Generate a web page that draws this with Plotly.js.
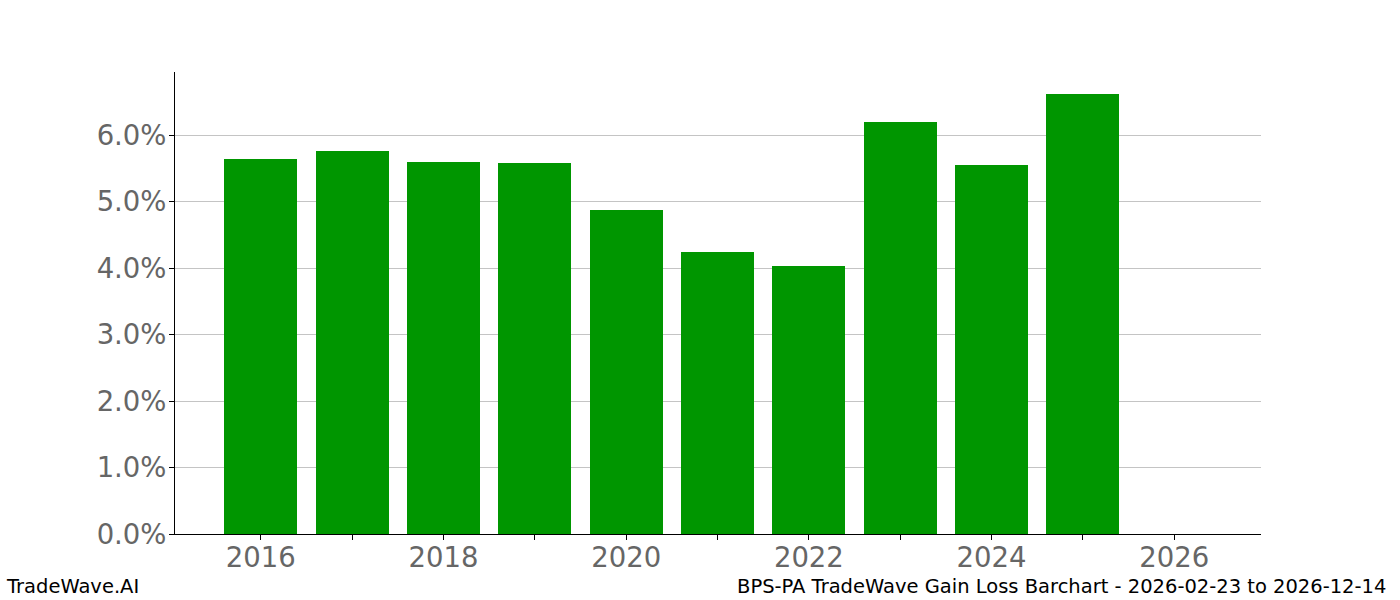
<!DOCTYPE html>
<html>
<head>
<meta charset="utf-8">
<script src="https://cdn.plot.ly/plotly-3.0.1.min.js"></script>
<style>
  html, body { margin: 0; padding: 0; background: #fff; }
  #chart { width: 1400px; height: 600px; }
</style>
</head>
<body>
<div id="chart"></div>
<script>
// yearly gain (percent)
var years = [2016, 2017, 2018, 2019, 2020, 2021, 2022, 2023, 2024, 2025];
var gains = [5.64, 5.76, 5.60, 5.58, 4.88, 4.245, 4.035, 6.20, 5.55, 6.62];

var tickYears = [2016, 2017, 2018, 2019, 2020, 2021, 2022, 2023, 2024, 2025, 2026];
var tickLabels = ['2016', '', '2018', '', '2020', '', '2022', '', '2024', '', '2026'];
var yTicks = [0, 1, 2, 3, 4, 5, 6];
var yLabels = ['0.0%', '1.0%', '2.0%', '3.0%', '4.0%', '5.0%', '6.0%'];

var footLeft = 'TradeWave.AI';
var footRight = 'BPS-PA TradeWave Gain Loss Barchart - 2026-02-23 to 2026-12-14';

var tickFont = { family: 'DejaVu Sans, sans-serif', size: 27.5, color: '#666666' };
var footFont = { family: 'DejaVu Sans, sans-serif', size: 19.5, color: '#000000' };

var bars = {
  type: 'bar',
  x: years,
  y: gains,
  width: 0.8,
  marker: { color: '#009600', line: { width: 0 } },
  hoverinfo: 'x+y'
};

var layout = {
  width: 1400,
  height: 600,
  margin: { l: 175, r: 139, t: 72, b: 66 },
  paper_bgcolor: '#ffffff',
  plot_bgcolor: '#ffffff',
  showlegend: false,
  bargap: 0,
  xaxis: {
    range: [2015.06, 2026.95],
    tickmode: 'array',
    tickvals: tickYears,
    ticktext: tickLabels,
    ticks: 'outside',
    ticklen: 5,
    tickwidth: 1,
    tickcolor: '#000000',
    tickfont: tickFont,
    ticklabelstandoff: -6,
    showgrid: false,
    zeroline: false,
    showline: true,
    linecolor: '#000000',
    linewidth: 1
  },
  yaxis: {
    range: [0, 6.95],
    tickmode: 'array',
    tickvals: yTicks,
    ticktext: yLabels,
    ticks: 'outside',
    ticklen: 5,
    tickwidth: 1,
    tickcolor: '#000000',
    tickfont: tickFont,
    ticklabelstandoff: -3,
    showgrid: true,
    gridcolor: '#c4c4c4',
    gridwidth: 1,
    zeroline: false,
    showline: true,
    linecolor: '#000000',
    linewidth: 1
  },
  annotations: [
    {
      text: footLeft,
      xref: 'paper', yref: 'paper',
      x: -0.1576, y: -0.1147,
      xanchor: 'left', yanchor: 'middle',
      showarrow: false,
      font: footFont
    },
    {
      text: footRight,
      xref: 'paper', yref: 'paper',
      x: 1.117, y: -0.1147,
      xanchor: 'right', yanchor: 'middle',
      showarrow: false,
      font: footFont
    }
  ]
};

Plotly.newPlot('chart', [bars], layout, { displayModeBar: false, staticPlot: true });
</script>
</body>
</html>
